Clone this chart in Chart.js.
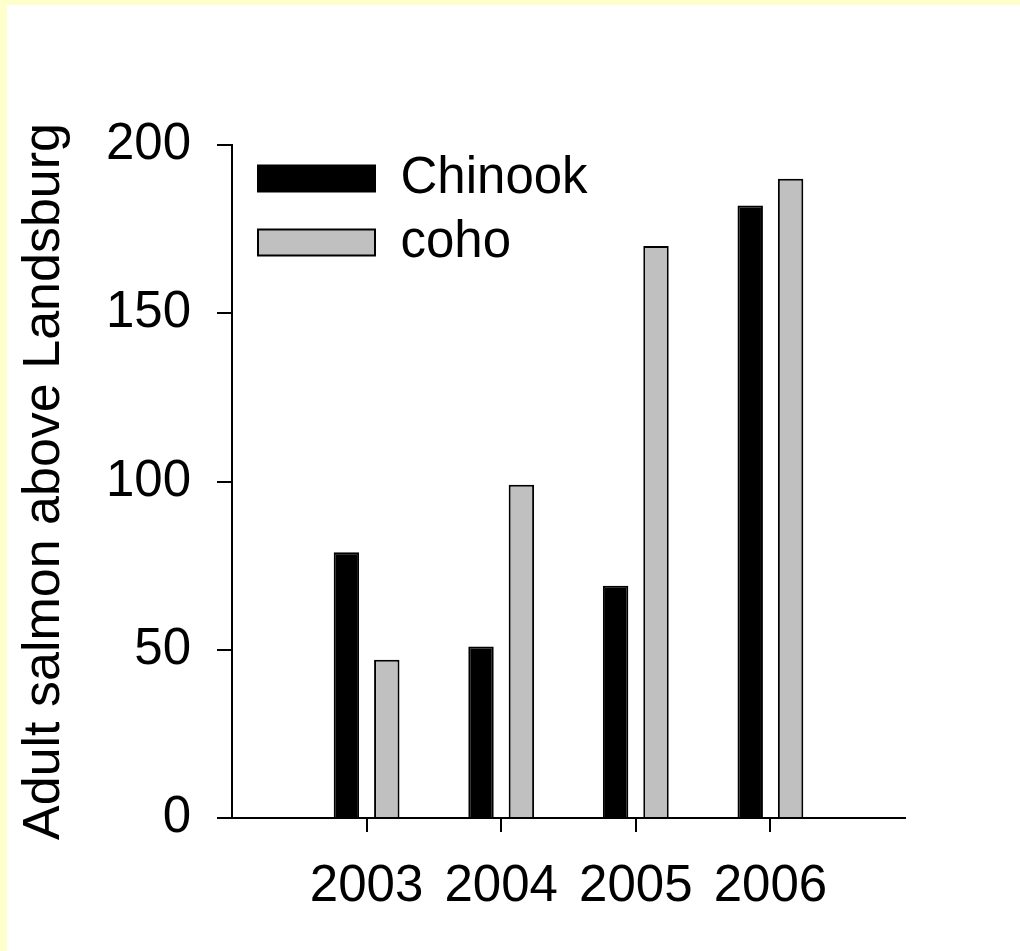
<!DOCTYPE html>
<html>
<head>
<meta charset="utf-8">
<title>Adult salmon above Landsburg</title>
<script src="https://cdn.jsdelivr.net/npm/chart.js@4/dist/chart.umd.min.js"></script>
<style>
  html, body { margin: 0; padding: 0; background: #ffffcc; width: 1020px; height: 951px; overflow: hidden; }
  #panel { position: absolute; left: 7px; top: 5px; width: 1013px; height: 946px; background: #ffffff; }
  canvas { display: block; }
</style>
</head>
<body>
<div id="panel"><canvas id="chart" width="1013" height="946"></canvas></div>
<script>
// Return-year categories and adult counts per species
const years = [2003, 2004, 2005, 2006];
const chinook = [79, 51, 69, 182];
const coho = [47, 99, 170, 190];
const yTicks = [0, 50, 100, 150, 200];
const yTitle = 'Adult salmon above Landsburg';

const FONT = "'Liberation Sans', Arial, Helvetica, sans-serif";

// Places the legend inside the plot area, near its top-left corner
const legendInset = {
  id: 'legendInset',
  afterLayout(chart, args, opts) {
    const lg = chart.legend;
    if (!lg) return;
    const w = lg.width, h = lg.height;
    lg.left = chart.chartArea.left + opts.x;
    lg.top = chart.chartArea.top + opts.y;
    lg.right = lg.left + w;
    lg.bottom = lg.top + h;
  }
};

const toPoints = (vals) => vals.map((v, i) => ({ x: years[i], y: v }));

new Chart(document.getElementById('chart'), {
  type: 'bar',
  data: {
    datasets: [
      {
        label: 'Chinook',
        data: toPoints(chinook),
        backgroundColor: '#000000',
        borderColor: '#000000',
        borderWidth: 2,
        categoryPercentage: 0.6,
        barPercentage: 0.63
      },
      {
        label: 'coho',
        data: toPoints(coho),
        backgroundColor: '#c0c0c0',
        borderColor: '#000000',
        borderWidth: 2,
        categoryPercentage: 0.6,
        barPercentage: 0.63
      }
    ]
  },
  options: {
    responsive: false,
    animation: false,
    devicePixelRatio: 1,
    layout: { padding: { left: 0, top: 140, right: 115, bottom: 33 } },
    scales: {
      x: {
        type: 'linear',
        min: years[0] - 1,
        max: years[years.length - 1] + 1,
        offset: false,
        afterBuildTicks: (scale) => {
          scale.ticks = years.map((y) => ({ value: y }));
        },
        afterFit: (scale) => { scale.height = 100; },
        ticks: {
          stepSize: 1,
          color: '#000',
          padding: 24,
          font: { family: FONT, size: 51 },
          callback: (v) => String(v),
          maxRotation: 0,
          autoSkip: false
        },
        grid: {
          display: true,
          offset: false,
          drawOnChartArea: false,
          drawTicks: true,
          tickLength: 14,
          lineWidth: 2,
          color: '#000'
        },
        border: { display: true, color: '#000', width: 2 }
      },
      y: {
        min: 0,
        max: 200,
        afterBuildTicks: (scale) => {
          scale.ticks = yTicks.map((v) => ({ value: v }));
        },
        afterFit: (scale) => { scale.width = 225; },
        ticks: {
          color: '#000',
          padding: 26,
          font: { family: FONT, size: 51 },
          callback: (v) => String(v)
        },
        grid: {
          display: true,
          drawOnChartArea: false,
          drawTicks: true,
          tickLength: 15,
          lineWidth: 2,
          color: '#000'
        },
        border: { display: true, color: '#000', width: 2 },
        title: {
          display: true,
          text: yTitle,
          color: '#000',
          font: { family: FONT, size: 52 },
          padding: { top: 6, bottom: 0 }
        }
      }
    },
    plugins: {
      legend: {
        display: true,
        position: 'chartArea',
        align: 'start',
        labels: {
          color: '#000',
          font: { family: FONT, size: 51 },
          boxWidth: 117,
          boxHeight: 26,
          padding: 13
        }
      },
      legendInset: { x: 13, y: -5 },
      tooltip: { enabled: false }
    }
  },
  plugins: [legendInset]
});
</script>
</body>
</html>
